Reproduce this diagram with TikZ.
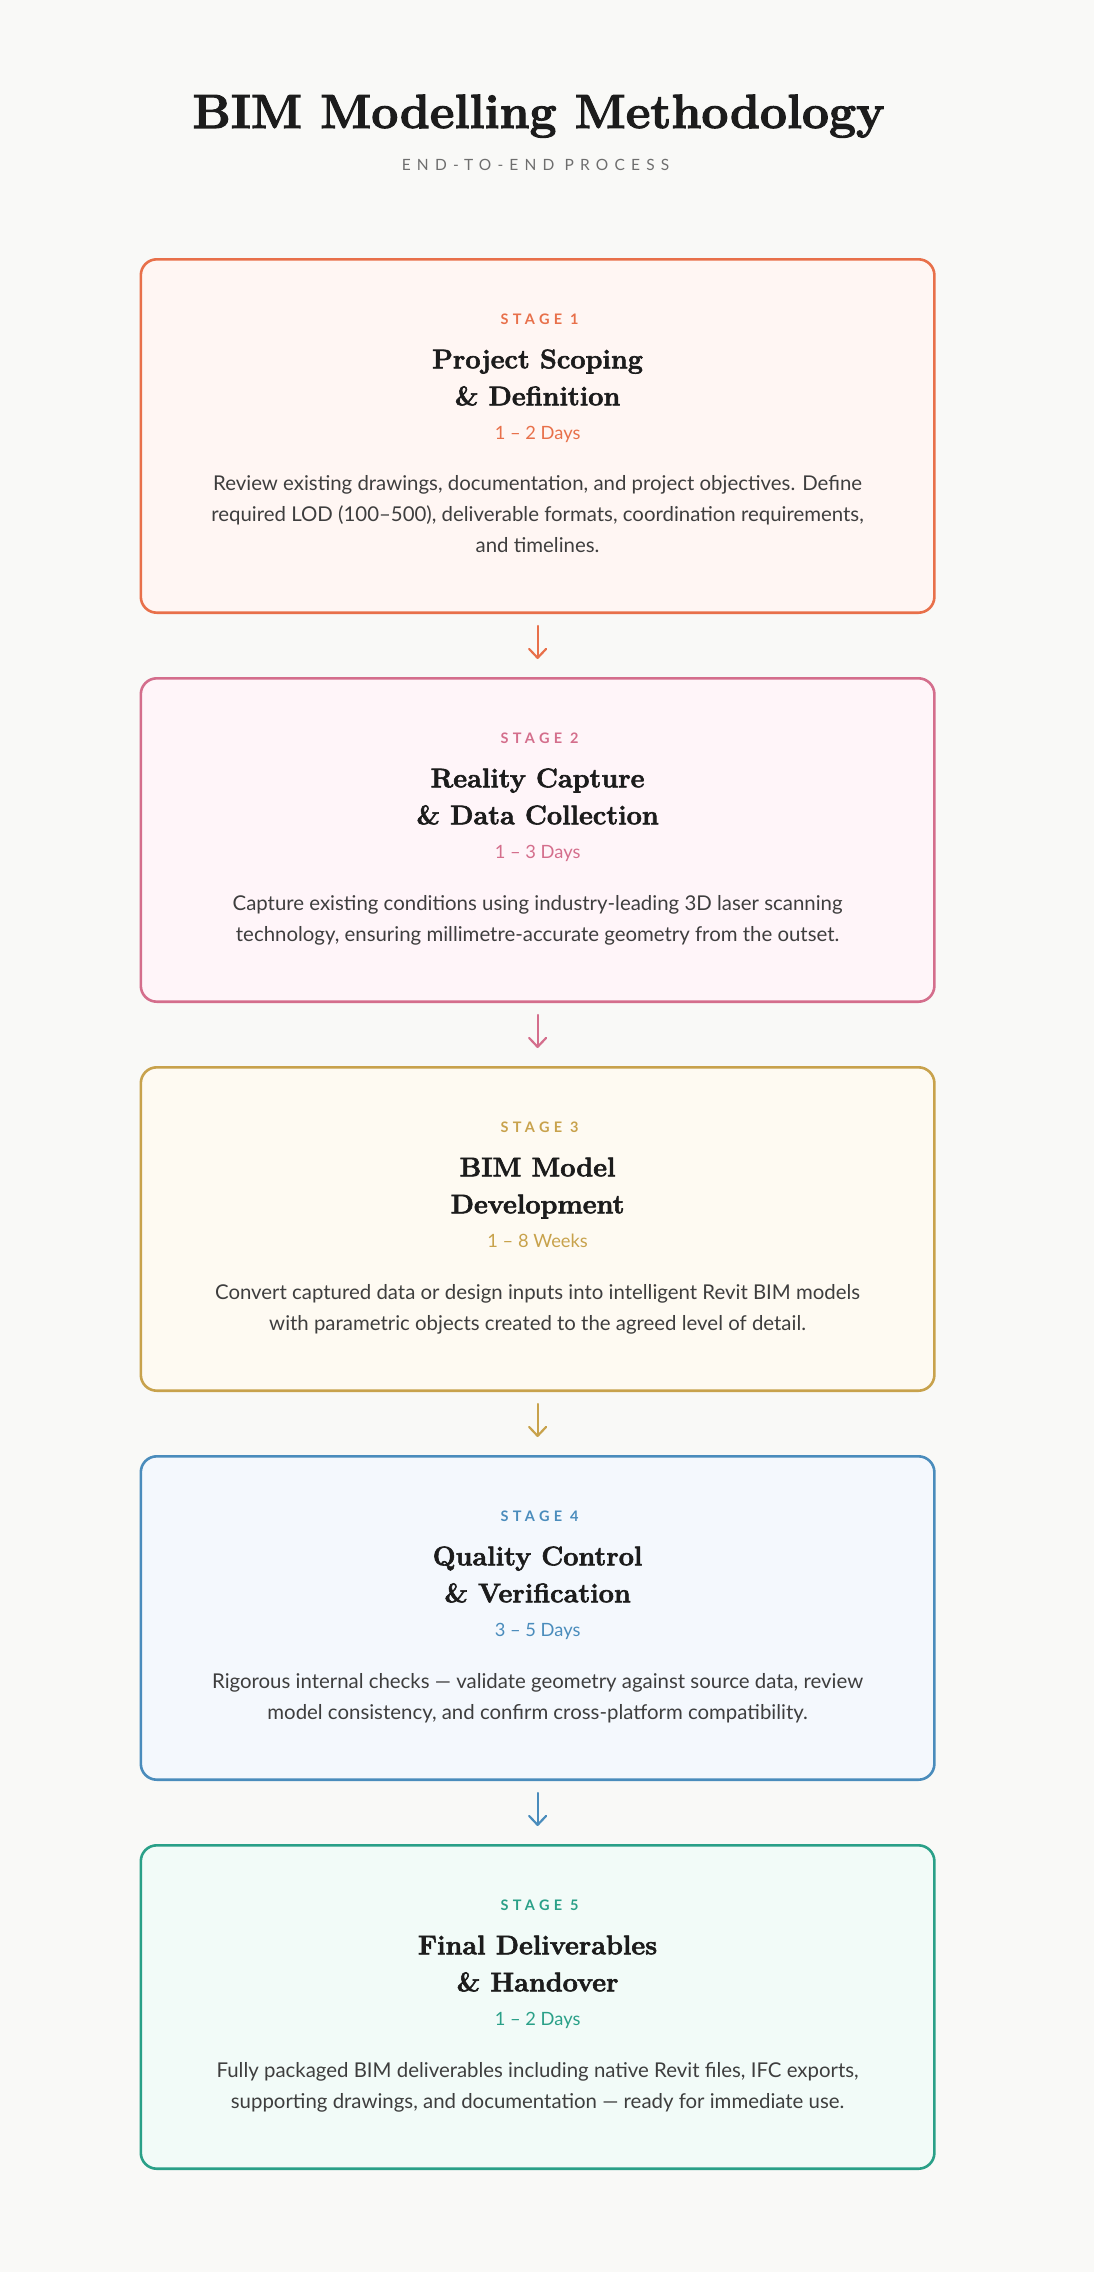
\documentclass[tikz,border=0pt]{standalone}
\usepackage{fontspec}
\usetikzlibrary{calc,arrows.meta}

\newfontfamily\headfont[BoldFeatures={FakeBold=2.2}]{Latin Modern Roman}
\newfontfamily\bodyfont{Lato}
\newfontfamily\stagefont[LetterSpace=30]{Lato}
\newfontfamily\tagfont[LetterSpace=40]{Lato}

\definecolor{pagebg}{HTML}{F9F9F7}
\definecolor{ink}{HTML}{1C1C1C}
\definecolor{bodyink}{HTML}{3E3E3E}
\definecolor{tagink}{HTML}{6E6E6E}
\definecolor{stageone}{HTML}{E8704A}
\definecolor{stageonebg}{HTML}{FFF6F3}
\definecolor{stagetwo}{HTML}{D46E8C}
\definecolor{stagetwobg}{HTML}{FFF5F9}
\definecolor{stagethree}{HTML}{C8A24C}
\definecolor{stagethreebg}{HTML}{FEFAF2}
\definecolor{stagefour}{HTML}{4A8CBC}
\definecolor{stagefourbg}{HTML}{F4F8FD}
\definecolor{stagefive}{HTML}{2AA088}
\definecolor{stagefivebg}{HTML}{F2FBF8}

\begin{document}
\begin{tikzpicture}[x=1pt,y=-1pt,
    stagebox/.style={draw,line width=2.6pt,rounded corners=16pt,minimum width=793.6pt,outer sep=0pt,inner sep=0pt},
    stagelabel/.style={anchor=base,inner sep=0pt,font=\stagefont\bfseries\fontsize{14.5}{14.5}\selectfont},
    stagetitle/.style={anchor=base,align=center,inner sep=0pt,text=ink,font=\headfont\bfseries\fontsize{27}{37}\selectfont},
    stagedays/.style={anchor=base,inner sep=0pt,font=\bodyfont\fontsize{18.3}{18.3}\selectfont},
    stagetext/.style={anchor=base,align=center,inner sep=0pt,text=bodyink,font=\bodyfont\fontsize{20.4}{31}\selectfont},
    flow/.style={line width=2.2pt,line cap=round,-{Straight Barb[length=9pt,width=17pt,round]},shorten <=13.3pt,shorten >=19.3pt}]
    \fill[pagebg] (0,0) rectangle (1094,2272);% page background
    \useasboundingbox (0,0) rectangle (1094,2272);
    % heading
    \node[anchor=base,inner sep=0pt,text=ink,font=\headfont\bfseries\fontsize{48}{48}\selectfont] (Heading) at (538.5,128) {BIM Modelling Methodology};
    \node[anchor=base,inner sep=0pt,text=tagink,font=\tagfont\fontsize{15.5}{15.5}\selectfont] (Tagline) at (535.5,171) {END-TO-END PROCESS};
    % the five stages (multi-line nodes sit on their last baseline)
    \foreach \n/\cy/\h/\col/\ttl/\dur/\txt in {
      1/436/353.4/stageone/{Project Scoping\\ \& Definition}/{1 – 2 Days}/{Review existing drawings, documentation, and project objectives. Define\\ required LOD (100–500), deliverable formats, coordination requirements,\\ and timelines.},
      2/840/323.4/stagetwo/{Reality Capture\\ \& Data Collection}/{1 – 3 Days}/{Capture existing conditions using industry-leading 3D laser scanning\\ technology, ensuring millimetre-accurate geometry from the outset.},
      3/1229/323.4/stagethree/{BIM Model\\ Development}/{1 – 8 Weeks}/{Convert captured data or design inputs into intelligent Revit BIM models\\ with parametric objects created to the agreed level of detail.},
      4/1618/323.4/stagefour/{Quality Control\\ \& Verification}/{3 – 5 Days}/{Rigorous internal checks — validate geometry against source data, review\\ model consistency, and confirm cross-platform compatibility.},
      5/2007/323.4/stagefive/{Final Deliverables\\ \& Handover}/{1 – 2 Days}/{Fully packaged BIM deliverables including native Revit files, IFC exports,\\ supporting drawings, and documentation — ready for immediate use.}}{
      \node[stagebox,draw=\col,fill=\col bg,minimum height=\h pt] (Box\n) at (537.6,\cy) {};
      \node[stagelabel,text=\col] (Label\n) at ($(Box\n.north)+(2,65)$) {STAGE \n};
      \node[stagetitle] (Title\n) at ($(Box\n.north)+(0,146)$) {\ttl};
      \node[stagedays,text=\col] (Days\n) at ($(Box\n.north)+(0,180)$) {\dur};
      \node[stagetext] (Text\n) at ($(Box\n.south)+(0,-60)$) {\txt};
    }
    % arrows between stages
    \foreach \a/\b/\col in {1/2/stageone,2/3/stagetwo,3/4/stagethree,4/5/stagefour}
      \draw[flow,\col] (Box\a.south) -- (Box\b.north);
\end{tikzpicture}
\end{document}
